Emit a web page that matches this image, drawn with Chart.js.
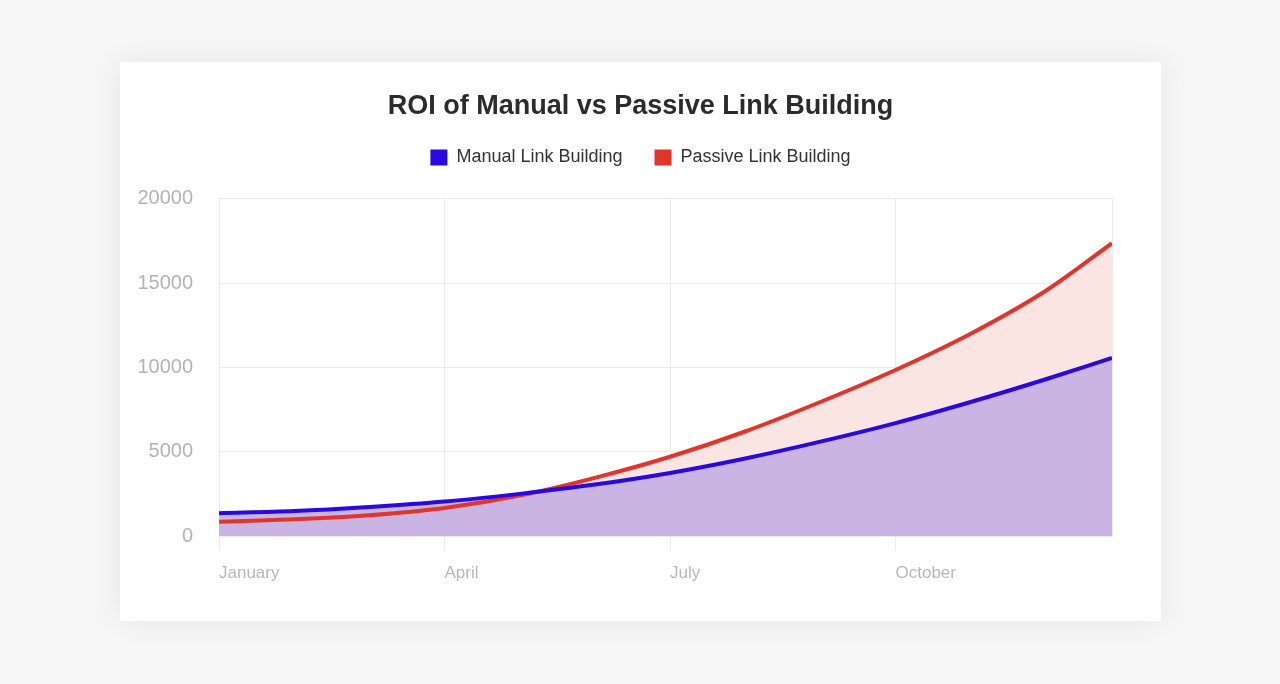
<!DOCTYPE html>
<html>
<head>
<meta charset="utf-8">
<script src="https://cdn.jsdelivr.net/npm/chart.js@4/dist/chart.umd.min.js"></script>
<style>
  html, body { margin: 0; padding: 0; background: #f6f6f6; }
  body { width: 1280px; height: 684px; position: relative; overflow: hidden; }
  .card {
    position: absolute; left: 120px; top: 62px; width: 1041px; height: 559px;
    background: #fff; box-shadow: 0 0 28px rgba(0,0,0,0.07);
  }
</style>
</head>
<body>
<div class="card"><canvas id="roi"></canvas></div>
<script>
// months along the x axis (0 = January); last point sits just before the next January
const monthLabels = ['January', 'February', 'March', 'April', 'May', 'June', 'July',
  'August', 'September', 'October', 'November', 'December'];
const xMonths = [0, 1, 2, 3, 4, 5, 6, 7, 8, 9, 10, 11, 11.88];
const manualValues = [1350, 1480, 1720, 2040, 2500, 3050, 3740, 4600, 5600, 6700, 7950, 9300, 10560];
const passiveValues = [850, 990, 1230, 1660, 2400, 3450, 4700, 6200, 7950, 9850, 12000, 14550, 17370];
const yTicks = { min: 0, max: 20000, step: 5000 };

const toPoints = values => values.map((v, i) => ({ x: xMonths[i], y: v }));

Chart.defaults.font.family = "'Liberation Sans', Arial, sans-serif";

new Chart(document.getElementById('roi'), {
  type: 'line',
  data: {
    datasets: [{
      label: 'Manual Link Building',
      data: toPoints(manualValues),
      borderColor: '#2a08e2',
      backgroundColor: '#c9b4e4',
      borderWidth: 4,
      fill: 'origin',
      cubicInterpolationMode: 'monotone',
      pointRadius: 0
    }, {
      label: 'Passive Link Building',
      data: toPoints(passiveValues),
      borderColor: '#e0352b',
      backgroundColor: '#fbe5e2',
      borderWidth: 4,
      fill: 'origin',
      cubicInterpolationMode: 'monotone',
      pointRadius: 0
    }]
  },
  options: {
    responsive: true,
    maintainAspectRatio: false,
    animation: false,
    layout: { padding: 0 },
    plugins: {
      title: {
        display: true,
        text: 'ROI of Manual vs Passive Link Building',
        color: '#2b2b2b',
        font: { size: 27, weight: 'bold' },
        padding: { top: 28, bottom: -6 }
      },
      // empty spacer between legend and plot
      subtitle: {
        display: true,
        text: '',
        weight: 500,
        font: { size: 10, lineHeight: 1 },
        padding: { top: 0, bottom: 12.5 }
      },
      legend: {
        labels: {
          boxWidth: 17,
          boxHeight: 16,
          padding: 32,
          color: '#333',
          font: { size: 18 },
          generateLabels: chart => Chart.defaults.plugins.legend.labels.generateLabels(chart)
            .map(item => Object.assign(item, { fillStyle: item.strokeStyle, lineWidth: 0 }))
        }
      },
      tooltip: { enabled: false },
      filler: { drawTime: 'beforeDatasetsDraw' }
    },
    scales: {
      x: {
        type: 'linear',
        min: xMonths[0],
        max: xMonths[xMonths.length - 1],
        afterFit: scale => { scale.height = 85; },
        grid: {
          color: '#ebebeb',
          tickLength: 14,
          tickColor: ctx => (ctx.tick && ctx.tick.value % 3 === 0) ? '#ebebeb' : 'rgba(0,0,0,0)'
        },
        border: { color: '#ebebeb' },
        ticks: {
          stepSize: 3,
          autoSkip: false,
          maxRotation: 0,
          align: 'start',
          padding: 13,
          color: '#b7b7b7',
          font: { size: 17 },
          callback: v => (v % 3 === 0 ? monthLabels[v] : '')
        }
      },
      y: {
        min: yTicks.min,
        max: yTicks.max,
        afterFit: scale => { scale.width = 99; },
        grid: { color: '#ebebeb', drawTicks: false },
        border: { color: '#ebebeb' },
        ticks: {
          stepSize: yTicks.step,
          padding: 26,
          color: '#b3b3b3',
          font: { size: 20 },
          callback: v => String(v)
        }
      },
      // empty right-hand margin so the plot stays centred in the card
      spacer: {
        position: 'right',
        grid: { display: false },
        border: { display: false },
        ticks: { display: false },
        afterFit: scale => { scale.width = 49; }
      }
    }
  }
});
</script>
</body>
</html>
